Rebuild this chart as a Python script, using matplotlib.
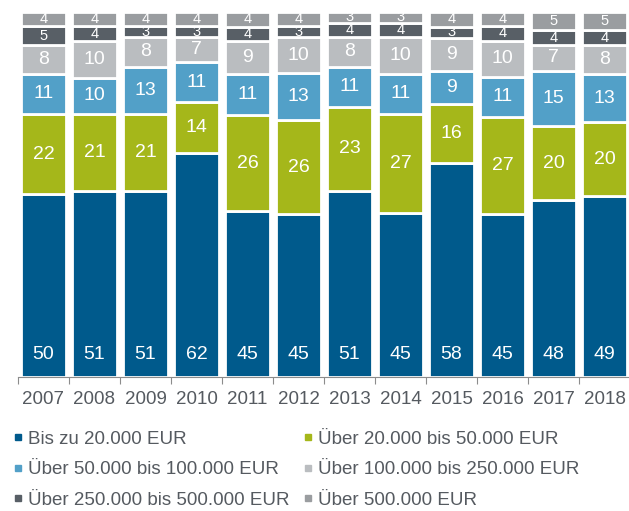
import numpy as np
import matplotlib.pyplot as plt
from matplotlib.lines import Line2D

plt.rcParams['font.family'] = ['Liberation Sans', 'DejaVu Sans']

years = ["2007", "2008", "2009", "2010", "2011", "2012", "2013", "2014", "2015", "2016", "2017", "2018"]
bis_20k = [50, 51, 51, 62, 45, 45, 51, 45, 58, 45, 48, 49]
k20_50 = [22, 21, 21, 14, 26, 26, 23, 27, 16, 27, 20, 20]
k50_100 = [11, 10, 13, 11, 11, 13, 11, 11, 9, 11, 15, 13]
k100_250 = [8, 10, 8, 7, 9, 10, 8, 10, 9, 10, 7, 8]
k250_500 = [5, 4, 3, 3, 4, 3, 4, 4, 3, 4, 4, 4]
ueber_500k = [4, 4, 4, 4, 4, 4, 3, 3, 4, 4, 5, 5]

labels = ["Bis zu 20.000 EUR", "Über 20.000 bis 50.000 EUR",
          "Über 50.000 bis 100.000 EUR", "Über 100.000 bis 250.000 EUR",
          "Über 250.000 bis 500.000 EUR", "Über 500.000 EUR"]
colors = ["#005a8c", "#a5b71a", "#52a0c8", "#babdc0", "#585f66", "#9a9da0"]

series = np.array([bis_20k, k20_50, k50_100, k100_250, k250_500, ueber_500k], dtype=float)
# the chart is a 100% stack, so scale each year to 100
shares = series / series.sum(axis=0) * 100

fig = plt.figure(figsize=(6.29, 5.11), dpi=100)
ax = fig.add_axes([0.0286, 0.262, 0.973, 0.715])

x = np.arange(len(years))
bottom = np.zeros(len(years))
for i, (vals, share, col) in enumerate(zip(series, shares, colors)):
    ax.bar(x, share, bottom=bottom, width=0.88, color=col, edgecolor="white",
           linewidth=2, zorder=2 + i)
    for xi, v, b, h in zip(x, vals, bottom, share):
        fs = 14 if v >= 7 else 10.5
        # first segment has its number near the base
        ypos = b + 6.2 if i == 0 else b + h / 2
        ax.text(xi, ypos, f"{int(v)}", ha="center", va="center",
                color="white", fontsize=fs, zorder=2.5 + i, clip_on=True)
    bottom += share

ax.set_xlim(-0.5, len(years) - 0.5)
ax.set_ylim(0, 100)
ax.set_yticks([])
for s in ["top", "right", "left"]:
    ax.spines[s].set_visible(False)
ax.spines["bottom"].set_color("#8c8c8c")
ax.set_xticks(np.arange(-0.5, len(years)), minor=False)
ax.set_xticklabels([])
ax.tick_params(axis="x", which="major", length=5, color="#8c8c8c", direction="out")
ax.set_xticks(x, minor=True)
ax.set_xticklabels(years, minor=True)
ax.tick_params(axis="x", which="minor", length=0, labelsize=13.5, labelcolor="#555a60", pad=10)

# legend fills column-wise, so reorder to read row by row
order = [0, 2, 4, 1, 3, 5]
handles = [Line2D([], [], marker="s", linestyle="none", markersize=5, color=colors[k]) for k in order]
fig.legend(handles, [labels[k] for k in order], loc="upper left", bbox_to_anchor=(0.005, 0.172), ncol=2,
           frameon=False, fontsize=13.5, labelcolor="#555a60", handletextpad=0.15,
           handlelength=0.8, columnspacing=0.55, labelspacing=0.72, borderaxespad=0)

fig.savefig("out.png", dpi=100)
